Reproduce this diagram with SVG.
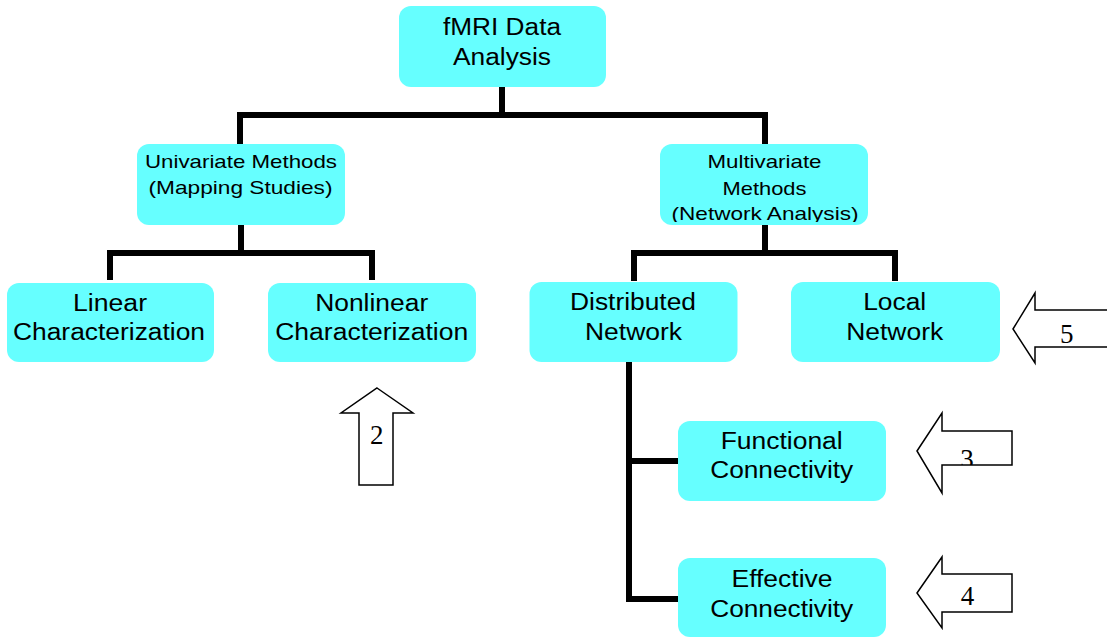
<svg xmlns="http://www.w3.org/2000/svg" width="1107" height="638" viewBox="0 0 1107 638">
  <style>
    .box { fill: #66FFFF; stroke: none; }
    .lbl { font-family: "Liberation Sans", Arial, sans-serif; fill: #000; text-anchor: middle; }
    .big { font-size: 23px; }
    .small { font-size: 19px; }
    .conn { fill: none; stroke: #000; stroke-width: 6; stroke-linejoin: miter; stroke-linecap: butt; }
    .arrow { fill: #fff; stroke: #000; stroke-width: 1.5; stroke-linejoin: miter; }
    .num { font-family: "Liberation Serif", "Times New Roman", serif; font-size: 27px; fill: #000; text-anchor: middle; }
  </style>
  <defs>
    <clipPath id="clipMulti"><rect x="660" y="144" width="208" height="78"/></clipPath>
    <clipPath id="clipA3"><polygon points="917,451 942,413 942,431 1012,431 1012,465 942,465 942,493"/></clipPath>
  </defs>
  <rect width="1107" height="638" fill="#fff"/>

  <g id="connectors">
    <polyline class="conn" points="502,87 502,115"/>
    <polyline class="conn" points="240,144 240,115 765,115 765,144"/>
    <polyline class="conn" points="241,225 241,253"/>
    <polyline class="conn" points="110,280 110,253 372,253 372,280"/>
    <polyline class="conn" points="765,225 765,253"/>
    <polyline class="conn" points="634,281 634,253 895,253 895,281"/>
    <polyline class="conn" points="629,362 629,599 678,599"/>
    <polyline class="conn" points="629,461 678,461"/>
  </g>

  <g id="node-fmri">
    <rect class="box" x="399" y="6" width="207" height="81" rx="12"/>
    <text class="lbl big" x="502" y="35" textLength="118" lengthAdjust="spacingAndGlyphs">fMRI Data</text>
    <text class="lbl big" x="502" y="65" textLength="98" lengthAdjust="spacingAndGlyphs">Analysis</text>
  </g>

  <g id="node-univariate">
    <rect class="box" x="137" y="144" width="208" height="81" rx="12"/>
    <text class="lbl small" x="241" y="168" textLength="192" lengthAdjust="spacingAndGlyphs">Univariate Methods</text>
    <text class="lbl small" x="240.5" y="194" textLength="184" lengthAdjust="spacingAndGlyphs">(Mapping Studies)</text>
  </g>

  <g id="node-multivariate">
    <rect class="box" x="660" y="144" width="208" height="81" rx="12"/>
    <text class="lbl small" x="764.5" y="168" textLength="114" lengthAdjust="spacingAndGlyphs">Multivariate</text>
    <text class="lbl small" x="764.5" y="195" textLength="84" lengthAdjust="spacingAndGlyphs">Methods</text>
    <text class="lbl small" x="765" y="220" textLength="187" lengthAdjust="spacingAndGlyphs" clip-path="url(#clipMulti)">(Network Analysis)</text>
  </g>

  <g id="node-linear">
    <rect class="box" x="7" y="283" width="207" height="79" rx="12"/>
    <text class="lbl big" x="110" y="311" textLength="74" lengthAdjust="spacingAndGlyphs">Linear</text>
    <text class="lbl big" x="109" y="340" textLength="192" lengthAdjust="spacingAndGlyphs">Characterization</text>
  </g>

  <g id="node-nonlinear">
    <rect class="box" x="268" y="283" width="208" height="79" rx="12"/>
    <text class="lbl big" x="371.7" y="311" textLength="113" lengthAdjust="spacingAndGlyphs">Nonlinear</text>
    <text class="lbl big" x="371.7" y="340" textLength="193" lengthAdjust="spacingAndGlyphs">Characterization</text>
  </g>

  <g id="node-distributed">
    <rect class="box" x="529.5" y="282" width="208" height="80" rx="12"/>
    <text class="lbl big" x="633" y="310" textLength="126" lengthAdjust="spacingAndGlyphs">Distributed</text>
    <text class="lbl big" x="633.5" y="340" textLength="97" lengthAdjust="spacingAndGlyphs">Network</text>
  </g>

  <g id="node-local">
    <rect class="box" x="791" y="282" width="209" height="80" rx="12"/>
    <text class="lbl big" x="894.7" y="310" textLength="63" lengthAdjust="spacingAndGlyphs">Local</text>
    <text class="lbl big" x="894.7" y="340" textLength="97" lengthAdjust="spacingAndGlyphs">Network</text>
  </g>

  <g id="node-functional">
    <rect class="box" x="678" y="421" width="208" height="80" rx="12"/>
    <text class="lbl big" x="781.7" y="448.5" textLength="122" lengthAdjust="spacingAndGlyphs">Functional</text>
    <text class="lbl big" x="781.7" y="478" textLength="143" lengthAdjust="spacingAndGlyphs">Connectivity</text>
  </g>

  <g id="node-effective">
    <rect class="box" x="678" y="558" width="208" height="79" rx="12"/>
    <text class="lbl big" x="782" y="586.5" textLength="101" lengthAdjust="spacingAndGlyphs">Effective</text>
    <text class="lbl big" x="781.7" y="616.5" textLength="143" lengthAdjust="spacingAndGlyphs">Connectivity</text>
  </g>

  <g id="arrow-2">
    <polygon class="arrow" points="377,388 413,413 393,413 393,485 359,485 359,413 341,413"/>
    <text class="num" x="376.7" y="444">2</text>
  </g>

  <g id="arrow-3">
    <polygon class="arrow" points="917,451 942,413 942,431 1012,431 1012,465 942,465 942,493"/>
    <text class="num" x="967" y="468" clip-path="url(#clipA3)">3</text>
  </g>

  <g id="arrow-4">
    <polygon class="arrow" points="917,593 942,557 942,574 1012,574 1012,612 942,612 942,628"/>
    <text class="num" x="967.5" y="605">4</text>
  </g>

  <g id="arrow-5">
    <polygon class="arrow" points="1013,329 1035,293 1035,310 1112,310 1112,347 1035,347 1035,363"/>
    <text class="num" x="1066.7" y="342.5">5</text>
  </g>
</svg>
